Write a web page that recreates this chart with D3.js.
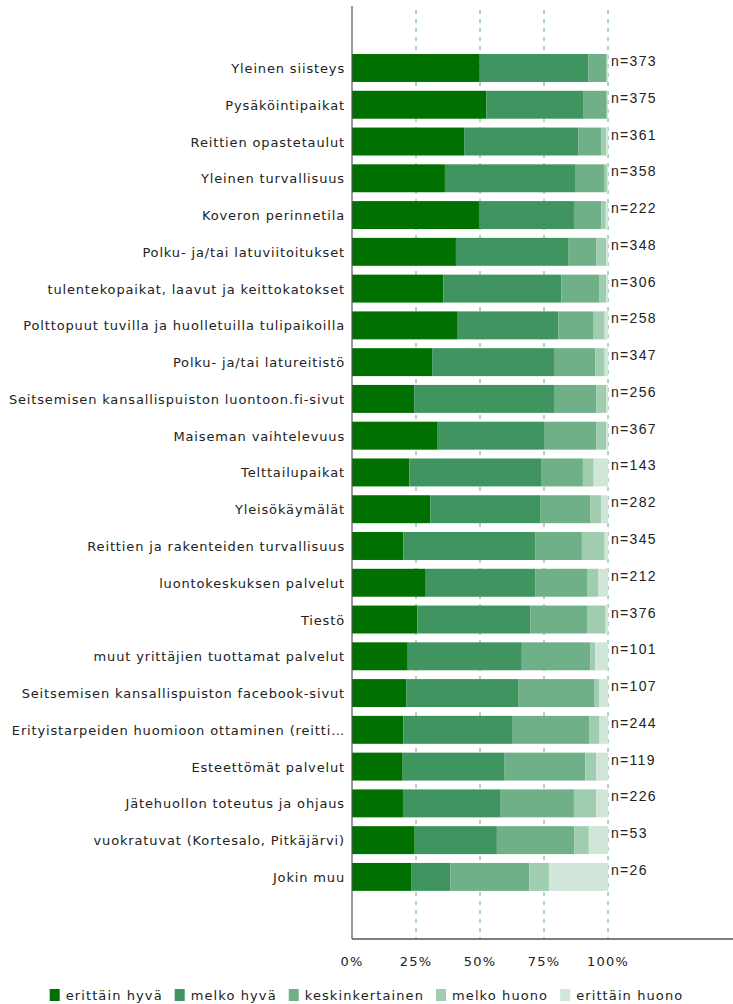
<!DOCTYPE html>
<html>
<head>
<meta charset="utf-8">
<script src="https://cdn.jsdelivr.net/npm/d3@7"></script>
<style>
  body { margin: 0; background: #fff; }
  svg { display: block; }
  .cat { font-family: "DejaVu Sans", Verdana, sans-serif; font-size: 13px; letter-spacing: 0.85px; fill: #222; }
  .nlab { font-family: "Liberation Sans", Arial, sans-serif; font-size: 14px; letter-spacing: 1.3px; fill: #222; }
  .tick-lab { font-family: "DejaVu Sans", Verdana, sans-serif; font-size: 13px; letter-spacing: 1.2px; fill: #222; }
  .leg { font-family: "DejaVu Sans", Verdana, sans-serif; font-size: 13px; letter-spacing: 1.1px; fill: #222; }
</style>
</head>
<body>
<svg id="chart" width="733" height="1004"></svg>
<script>
const categories = [
  "Yleinen siisteys",
  "Pysäköintipaikat",
  "Reittien opastetaulut",
  "Yleinen turvallisuus",
  "Koveron perinnetila",
  "Polku- ja/tai latuviitoitukset",
  "tulentekopaikat, laavut ja keittokatokset",
  "Polttopuut tuvilla ja huolletuilla tulipaikoilla",
  "Polku- ja/tai latureitistö",
  "Seitsemisen kansallispuiston luontoon.fi-sivut",
  "Maiseman vaihtelevuus",
  "Telttailupaikat",
  "Yleisökäymälät",
  "Reittien ja rakenteiden turvallisuus",
  "luontokeskuksen palvelut",
  "Tiestö",
  "muut yrittäjien tuottamat palvelut",
  "Seitsemisen kansallispuiston facebook-sivut",
  "Erityistarpeiden huomioon ottaminen (reitti…",
  "Esteettömät palvelut",
  "Jätehuollon toteutus ja ohjaus",
  "vuokratuvat (Kortesalo, Pitkäjärvi)",
  "Jokin muu"
];
const nValues = [373, 375, 361, 358, 222, 348, 306, 258, 347, 256, 367, 143, 282, 345, 212, 376, 101, 107, 244, 119, 226, 53, 26];

const seriesNames = ["erittäin hyvä", "melko hyvä", "keskinkertainen", "melko huono", "erittäin huono"];
const seriesColors = ["#007000", "#40945f", "#70b088", "#a0ccb0", "#d0e6d8"];

const erittainHyva   = [49.9, 52.5, 43.8, 36.3, 49.6, 40.6, 35.7, 41.3, 31.3, 24.3, 33.2, 22.4, 30.6, 20.1, 28.8, 25.5, 21.8, 21.2, 20.1, 19.8, 19.9, 24.5, 23.1];
const melkoHyva      = [42.4, 38.0, 44.6, 51.1, 37.1, 43.8, 46.1, 39.3, 47.9, 54.6, 41.8, 51.7, 43.1, 51.6, 42.9, 44.2, 44.6, 43.9, 42.4, 39.6, 38.2, 32.1, 15.4];
const keskinkertainen= [ 7.0,  9.0,  8.9, 11.3, 10.7, 11.0, 14.7, 13.8, 15.9, 16.5, 20.4, 16.1, 19.5, 18.1, 20.1, 22.1, 26.7, 29.7, 30.3, 31.7, 28.6, 30.2, 30.8];
const melkoHuono     = [ 0.5,  0.3,  2.0,  1.0,  1.7,  3.9,  2.8,  4.3,  3.6,  3.9,  3.9,  4.2,  4.2,  8.9,  4.3,  7.3,  2.0,  1.7,  3.9,  4.3,  8.7,  5.7,  7.7];
const erittainHuono  = [ 0.2,  0.2,  0.7,  0.3,  0.9,  0.7,  0.7,  1.3,  1.3,  0.7,  0.7,  5.6,  2.6,  1.3,  3.9,  0.9,  5.0,  3.5,  3.3,  4.6,  4.6,  7.5, 23.1];

const xTicks = [0, 25, 50, 75, 100];

const svg = d3.select("#chart");

const rows = categories.map((c, i) => {
  const vals = [erittainHyva[i], melkoHyva[i], keskinkertainen[i], melkoHuono[i], erittainHuono[i]];
  const total = d3.sum(vals);
  const row = { category: c, n: nValues[i] };
  seriesNames.forEach((s, j) => row[s] = vals[j] / total * 100);
  return row;
});

const stacked = d3.stack().keys(seriesNames)(rows);

const x = d3.scaleLinear().domain([0, 100]).range([352, 608]);
const y = d3.scaleBand()
  .domain(categories)
  .range([49.6, 895.3])
  .paddingInner(0.24)
  .paddingOuter(0.12);

// grid lines
svg.append("g")
  .selectAll("line")
  .data(xTicks.slice(1))
  .join("line")
  .attr("x1", d => x(d)).attr("x2", d => x(d))
  .attr("y1", 10).attr("y2", 939)
  .attr("stroke", "#5aae84")
  .attr("stroke-width", 1)
  .attr("stroke-dasharray", "4,5");

// bars
svg.append("g")
  .selectAll("g")
  .data(stacked)
  .join("g")
  .attr("fill", (d, i) => seriesColors[i])
  .selectAll("rect")
  .data(d => d)
  .join("rect")
  .attr("x", d => x(d[0]))
  .attr("y", d => y(d.data.category))
  .attr("width", d => Math.max(0, x(d[1]) - x(d[0])))
  .attr("height", y.bandwidth());

// axes lines
svg.append("line")
  .attr("x1", 352).attr("x2", 352).attr("y1", 6).attr("y2", 939)
  .attr("stroke", "#555").attr("stroke-width", 1.2);
svg.append("line")
  .attr("x1", 352).attr("x2", 733).attr("y1", 939).attr("y2", 939)
  .attr("stroke", "#555").attr("stroke-width", 1.5);

// category labels
svg.append("g")
  .selectAll("text")
  .data(categories)
  .join("text")
  .attr("class", "cat")
  .attr("x", 345)
  .attr("y", d => y(d) + y.bandwidth() / 2 + 5)
  .attr("text-anchor", "end")
  .text(d => d);

// n labels
svg.append("g")
  .selectAll("text")
  .data(rows)
  .join("text")
  .attr("class", "nlab")
  .attr("x", 611)
  .attr("y", d => y(d.category) + y.bandwidth() / 2 - 2)
  .text(d => "n=" + d.n);

// x tick labels
svg.append("g")
  .selectAll("text")
  .data(xTicks)
  .join("text")
  .attr("class", "tick-lab")
  .attr("x", d => x(d))
  .attr("y", 966)
  .attr("text-anchor", "middle")
  .text(d => d + "%");

// legend
const legend = svg.append("g");
let lx = 0;
seriesNames.forEach((s, i) => {
  const item = legend.append("g").attr("transform", `translate(${lx},0)`);
  item.append("rect")
    .attr("x", 0).attr("y", 989).attr("width", 10).attr("height", 12)
    .attr("fill", seriesColors[i]);
  const t = item.append("text")
    .attr("class", "leg")
    .attr("x", 16).attr("y", 1000)
    .text(s);
  lx += 16 + t.node().getComputedTextLength() + 12;
});
const legW = lx - 12;
legend.attr("transform", `translate(${(733 - legW) / 2},0)`);
</script>
</body>
</html>
